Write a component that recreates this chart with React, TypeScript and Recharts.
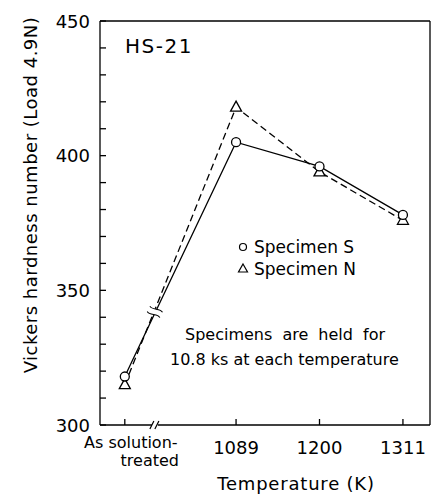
import { LineChart, Line, XAxis, YAxis, ReferenceLine, ReferenceDot } from "recharts";

const FONT = "'DejaVu Sans', sans-serif";

// temperature categories; the as-treated state is put at a nominal spot left of the axis break
const TEMP_LABELS = ["As solution-treated", "1089", "1200", "1311"];
const TEMP_POS = [941, 1089, 1200, 1311];
const SPECIMEN_S = [318, 405, 396, 378];
const SPECIMEN_N = [315, 418, 394, 376];
const Y_TICKS = [300, 310, 320, 330, 340, 350, 360, 370, 380, 390, 400, 410, 420, 430, 440, 450];
const Y_LABELS = [300, 350, 400, 450];

const X_MIN = 908;
const X_MAX = 1347;
const BREAK_T = 981;
const BREAK_HV = 342;

const data = TEMP_LABELS.map((label, i) => ({
  label,
  t: TEMP_POS[i],
  s: SPECIMEN_S[i],
  n: SPECIMEN_N[i],
}));

function YTick({ x, y, payload }: any) {
  const ax = x + 8;
  return (
    <g>
      <line x1={ax} x2={ax + 6} y1={y} y2={y} stroke="#000" strokeWidth={1.3} />
      {Y_LABELS.includes(payload.value) && (
        <text x={x - 2} y={y} textAnchor="end" dominantBaseline="central" fontSize={18} fontFamily={FONT} fill="#000">
          {payload.value}
        </text>
      )}
    </g>
  );
}

function XTick({ x, y, payload }: any) {
  const i = TEMP_POS.indexOf(payload.value);
  return (
    <g>
      <line x1={x} x2={x} y1={y} y2={y - 6} stroke="#000" strokeWidth={1.3} />
      {i === 0 ? (
        <text fontSize={16} fontFamily={FONT} fill="#000">
          <tspan x={x + 6} y={y + 23} textAnchor="middle">As solution-</tspan>
          <tspan x={x + 25} y={y + 41} textAnchor="middle">treated</tspan>
        </text>
      ) : (
        <text x={x} y={y + 29} textAnchor="middle" fontSize={18} fontFamily={FONT} fill="#000">
          {TEMP_LABELS[i]}
        </text>
      )}
    </g>
  );
}

const circleDot = (p: any) => (
  <circle key={`s${p.index}`} cx={p.cx} cy={p.cy} r={4.5} fill="#fff" stroke="#000" strokeWidth={1.3} />
);

const triDot = (p: any) => (
  <path
    key={`n${p.index}`}
    d={`M${p.cx},${p.cy - 6} L${p.cx + 5.5},${p.cy + 4} L${p.cx - 5.5},${p.cy + 4} Z`}
    fill="#fff"
    stroke="#000"
    strokeWidth={1.3}
  />
);

const AxisBreak = ({ cx, cy }: any) => (
  <path
    d={`M${cx - 5},${cy + 4} L${cx - 1},${cy - 4} M${cx},${cy + 4} L${cx + 4},${cy - 4}`}
    stroke="#000"
    strokeWidth={1.2}
    fill="none"
  />
);

const LineBreak = ({ cx, cy }: any) => (
  <g transform={`rotate(-64 ${cx} ${cy})`}>
    <rect x={cx - 3} y={cy - 8} width={6} height={16} fill="#fff" />
    <path
      d={`M${cx - 3},${cy - 7} C${cx - 6},${cy - 3} ${cx},${cy + 3} ${cx - 3},${cy + 7} M${cx + 3},${cy - 7} C${cx},${cy - 3} ${cx + 6},${cy + 3} ${cx + 3},${cy + 7}`}
      stroke="#000"
      strokeWidth={1}
      fill="none"
    />
  </g>
);

export default function App() {
  return (
    <div style={{ position: "absolute", left: 0, top: 0, width: 432, height: 496, background: "#fff" }}>
      <LineChart width={432} height={496} data={data} margin={{ top: 21, right: 2, bottom: 0, left: 0 }}>
        <XAxis
          dataKey="t"
          type="number"
          domain={[X_MIN, X_MAX]}
          ticks={TEMP_POS}
          interval={0}
          allowDataOverflow
          axisLine={false}
          tickLine={false}
          tickSize={0}
          tickMargin={0}
          height={71}
          tick={<XTick />}
        />
        <YAxis
          type="number"
          domain={[300, 450]}
          ticks={Y_TICKS}
          interval={0}
          allowDataOverflow
          axisLine={false}
          tickLine={false}
          tickSize={0}
          tickMargin={8}
          width={100}
          tick={<YTick />}
        />
        {/* frame */}
        <ReferenceLine segment={[{ x: X_MIN, y: 300 }, { x: X_MIN, y: 450 }]} stroke="#000" strokeWidth={1.3} />
        <ReferenceLine segment={[{ x: X_MIN, y: 450 }, { x: X_MAX, y: 450 }]} stroke="#000" strokeWidth={1.3} />
        <ReferenceLine segment={[{ x: X_MAX, y: 300 }, { x: X_MAX, y: 450 }]} stroke="#000" strokeWidth={1.3} />
        <ReferenceLine segment={[{ x: X_MIN, y: 300 }, { x: BREAK_T - 4, y: 300 }]} stroke="#000" strokeWidth={1.3} />
        <ReferenceLine segment={[{ x: BREAK_T + 4, y: 300 }, { x: X_MAX, y: 300 }]} stroke="#000" strokeWidth={1.3} />
        <ReferenceDot x={BREAK_T} y={300} shape={<AxisBreak />} />

        <Line
          dataKey="n"
          stroke="#000"
          strokeWidth={1.3}
          strokeDasharray="7 4"
          dot={triDot}
          isAnimationActive={false}
        />
        <Line dataKey="s" stroke="#000" strokeWidth={1.3} dot={circleDot} isAnimationActive={false} />
        <ReferenceDot x={BREAK_T} y={BREAK_HV} shape={<LineBreak />} />

        <text x={125} y={53} fontSize={20} letterSpacing={1.5} fontFamily={FONT} fill="#000">
          HS-21
        </text>
        <circle cx={243} cy={247} r={3.5} fill="#fff" stroke="#000" strokeWidth={1.2} />
        <text x={254} y={253} fontSize={17} fontFamily={FONT} fill="#000">
          Specimen S
        </text>
        <path d="M243,264 L247.5,272 L238.5,272 Z" fill="#fff" stroke="#000" strokeWidth={1.2} />
        <text x={254} y={275} fontSize={17} fontFamily={FONT} fill="#000">
          Specimen N
        </text>
        <text x={185} y={340} fontSize={16} wordSpacing={5} fontFamily={FONT} fill="#000">
          Specimens are held for
        </text>
        <text x={170} y={365} fontSize={16} fontFamily={FONT} fill="#000">
          10.8 ks at each temperature
        </text>
        <text
          x={37}
          y={195}
          transform="rotate(-90 37 195)"
          textAnchor="middle"
          fontSize={18}
          letterSpacing={0.5}
          fontFamily={FONT}
          fill="#000"
        >
          Vickers hardness number (Load 4.9N)
        </text>
        <text x={296} y={490} textAnchor="middle" fontSize={18} letterSpacing={0.8} fontFamily={FONT} fill="#000">
          Temperature (K)
        </text>
      </LineChart>
    </div>
  );
}
